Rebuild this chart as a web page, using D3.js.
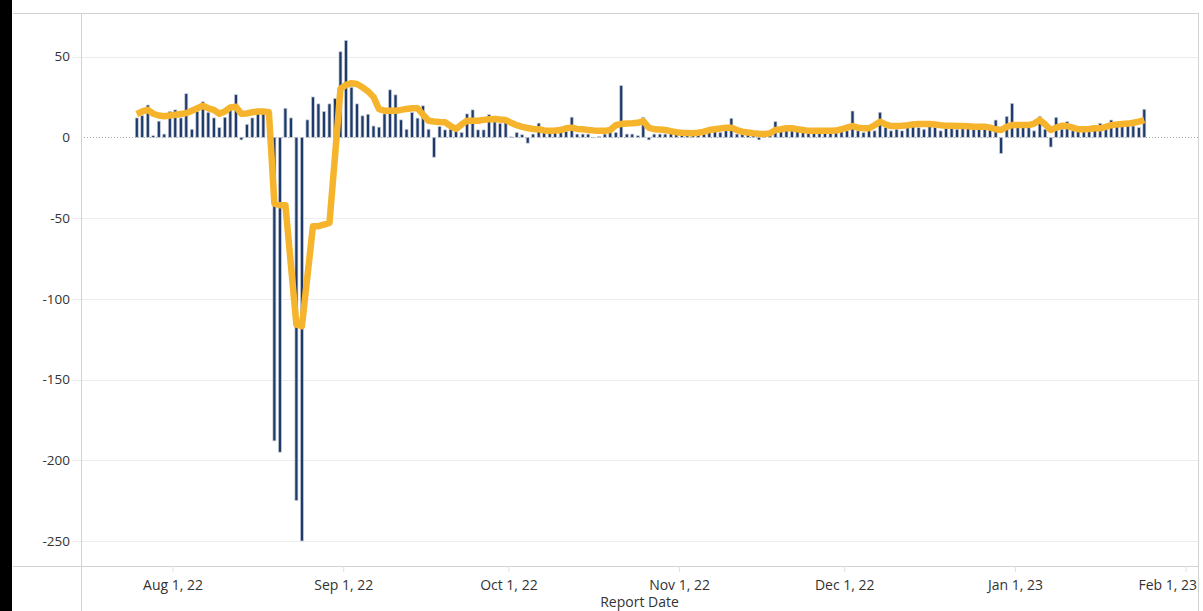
<!DOCTYPE html>
<html><head><meta charset="utf-8">
<script src="https://cdn.jsdelivr.net/npm/d3@7"></script>
<style>
html,body{margin:0;padding:0;background:#fff;}
svg{display:block;}
text{font-family:"Open Sans",sans-serif;}
</style></head><body>
<svg id="chart" width="1203" height="611"></svg>
<script>
// ---- data ----
const firstDate = "2022-07-25";
const dailyChange = [
 12,13.4,20,1,10,2,16,17,12,27, 5,16,22,15.5,12,6,12.4,18,26.4,-1.6,
 8,12,17,17,17,-188,-195,18,12,-225, -250,10.8,25,20.7,16,20.7,24,53,60,31,
 20.7,13.3,14.3,7,6.3,14.5,29.4,26.3,10.8,5, 15.4,11.9,19.5,5,-12.3,6.7,4.6,5,4.6,3,
 14.5,17,4.6,4.6,14,12,8.6,12,0.3,3, 1.6,-3.6,2,8.8,3,3,3,3,3.6,12.5,
 2,2,2,0,0.5,2,3,3,32,2, 2,1,12.4,-1.6,2,2,2,3,2,3,
 1,2,3,2,3,4,3,4,11.8,2, 3,2,1,-1.6,2,3,9.7,4,5,4,
 6,5,4,5,3,4,3,5,4,4, 16.3,4,3,5,4,15.5,6,4,5,4,
 8,9.7,6,5,7,6,4,8,6,5, 7,6,5,6,5,6,10.7,-10,13,21,
 7,6,6,4,13,5,-6,12.4,5,9.7, 4,5,4,6,5,8.7,6,10.7,7,7,
 7,7,6,17.4
];
const rollingAvg = [
 14.5,16,17,14.6,13.5,13,13.5,14,14.5,15, 16.5,18,19.5,18,17,14.6,16,18.5,19,14.6,
 14.8,15.5,16,16,15.5,-41,-42,-42,-79,-116, -117,-86,-55,-55,-54,-53,-12,30,32.5,33.5,
 33,31,28.5,25,17.5,16.5,16.5,16.5,17,17.6, 18,18,14,10.3,9.8,9.5,9.3,7,5.2,8,
 10.3,10.3,10.3,10.8,11.2,11.4,11,10.7,9,7.5, 6.5,5.8,5.2,5,4.3,4.1,4.2,4.5,5.6,6,
 5.2,5,4.6,4.3,4.1,4,4.5,7.5,8.3,8.5, 8.7,9,10,6,5,4.8,4.5,3.8,3.2,2.9,
 2.7,2.5,2.8,3.5,4.5,5,5.5,6,6,4.5, 3.5,3,2.5,2.2,2,2.5,4.5,5,5.6,5.6,
 5,4.5,4,4,4,4,4,4.2,5,6, 7,6,5.6,5.6,7.5,9.7,8,7,7,7.2,
 7.5,8,8.3,8.3,8.3,8,7.5,7.2,7.2,7, 7,6.8,6.6,6.6,6.6,6,5,4.5,6.5,7.6,
 7.6,7.6,7.6,8.5,10.7,8,4.5,6,7.2,7, 6,5,5,5.2,5.6,5.6,6.5,7.5,8,8.3,
 8.5,9,9.7,10.7
];
const yTicks = [50, 0, -50, -100, -150, -200, -250];
const xTickDates = ["2022-08-01","2022-09-01","2022-10-01","2022-11-01","2022-12-01","2023-01-01","2023-02-01"];
const xAxisTitle = "Report Date";

// ---- layout ----
const W = 1203, H = 611;
const frameL = 13, frameT = 13;
const plotL = 81, plotR = 1198, plotB = 566;
const svg = d3.select("#chart");

const parse = d3.timeParse("%Y-%m-%d");
const start = parse(firstDate);
const dates = dailyChange.map((_, i) => d3.timeHour.offset(d3.timeDay.offset(start, i), 12));
const rows = dates.map((d, i) => ({date: d, v: dailyChange[i], avg: rollingAvg[i]}));

const x = d3.scaleTime()
  .domain([d3.timeHour.offset(dates[0], -243), d3.timeHour.offset(dates[dates.length - 1], 234)])
  .range([plotL, plotR]);
const y = d3.scaleLinear().domain([-265.5, 77]).range([plotB, frameT]);

// left dark strip
svg.append("rect").attr("x", 0).attr("y", 0).attr("width", 12).attr("height", H).attr("fill", "#000");

// gridlines
const grid = svg.append("g");
grid.selectAll("line").data(yTicks.filter(t => t !== 0)).join("line")
  .attr("x1", 72).attr("x2", plotR).attr("y1", d => Math.round(y(d)) + 0.5).attr("y2", d => Math.round(y(d)) + 0.5)
  .attr("stroke", "#ececec").attr("stroke-width", 1);

// zero line (dotted)
svg.append("line").attr("x1", plotL).attr("x2", plotR)
  .attr("y1", Math.round(y(0)) + 0.5).attr("y2", Math.round(y(0)) + 0.5)
  .attr("stroke", "#a8a8a8").attr("stroke-width", 1).attr("stroke-dasharray", "1,2");

// frame lines
const fc = "#d2d2d2";
svg.append("line").attr("x1", frameL).attr("x2", plotR).attr("y1", frameT + 0.5).attr("y2", frameT + 0.5).attr("stroke", fc);
svg.append("line").attr("x1", frameL).attr("x2", plotR).attr("y1", plotB + 0.5).attr("y2", plotB + 0.5).attr("stroke", fc);
svg.append("line").attr("x1", plotL + 0.5).attr("x2", plotL + 0.5).attr("y1", frameT).attr("y2", H).attr("stroke", fc);
svg.append("line").attr("x1", plotR + 0.5).attr("x2", plotR + 0.5).attr("y1", frameT).attr("y2", H).attr("stroke", fc);

// y axis labels (plain hyphen-minus as in the reference)
const yAxis = d3.axisLeft(y).tickValues(yTicks).tickSize(0).tickPadding(0).tickFormat(d => String(d));
const gy = svg.append("g").attr("transform", `translate(${plotL - 11},0)`).call(yAxis);
gy.select(".domain").remove();
gy.selectAll("text").attr("font-size", 13.5).attr("fill", "#333").attr("font-family", "Open Sans, sans-serif");

// x axis
const xt = xTickDates.map(parse);
const xAxis = d3.axisBottom(x).tickValues(xt).tickSize(6).tickPadding(8).tickFormat(d3.timeFormat("%b %-d, %y"));
const gx = svg.append("g").attr("transform", `translate(0,${plotB})`).call(xAxis);
gx.select(".domain").remove();
gx.selectAll(".tick line").attr("stroke", "#e0e0e0");
gx.selectAll("text").attr("font-size", 14).attr("fill", "#333").attr("font-family", "Open Sans, sans-serif")
  .each(function () {
    const bb = this.getBBox();
    const tx = +d3.select(this.parentNode).attr("transform").match(/translate\(([-\d.]+)/)[1];
    if (tx + bb.x + bb.width > W - 6) {
      d3.select(this).attr("text-anchor", "end").attr("x", (W - 6) - tx);
    }
  });

svg.append("text").attr("x", (plotL + plotR) / 2).attr("y", 607).attr("text-anchor", "middle")
  .attr("font-size", 14).attr("fill", "#333").text(xAxisTitle);

// bars
const bw = 3;
svg.append("g").selectAll("rect").data(rows).join("rect")
  .attr("x", d => x(d.date) - bw / 2)
  .attr("y", d => Math.min(y(d.v), y(0)))
  .attr("width", bw)
  .attr("height", d => Math.max(0.6, Math.abs(y(d.v) - y(0))))
  .attr("fill", "#1d3a6b")
  .attr("stroke", "#c9ced8").attr("stroke-width", 0.7);

// rolling line
svg.append("path").datum(rows)
  .attr("d", d3.line().x(d => x(d.date)).y(d => y(d.avg)))
  .attr("fill", "none").attr("stroke", "#f6b42c").attr("stroke-width", 6.5)
  .attr("stroke-linejoin", "round").attr("stroke-linecap", "butt");
</script>
</body></html>
